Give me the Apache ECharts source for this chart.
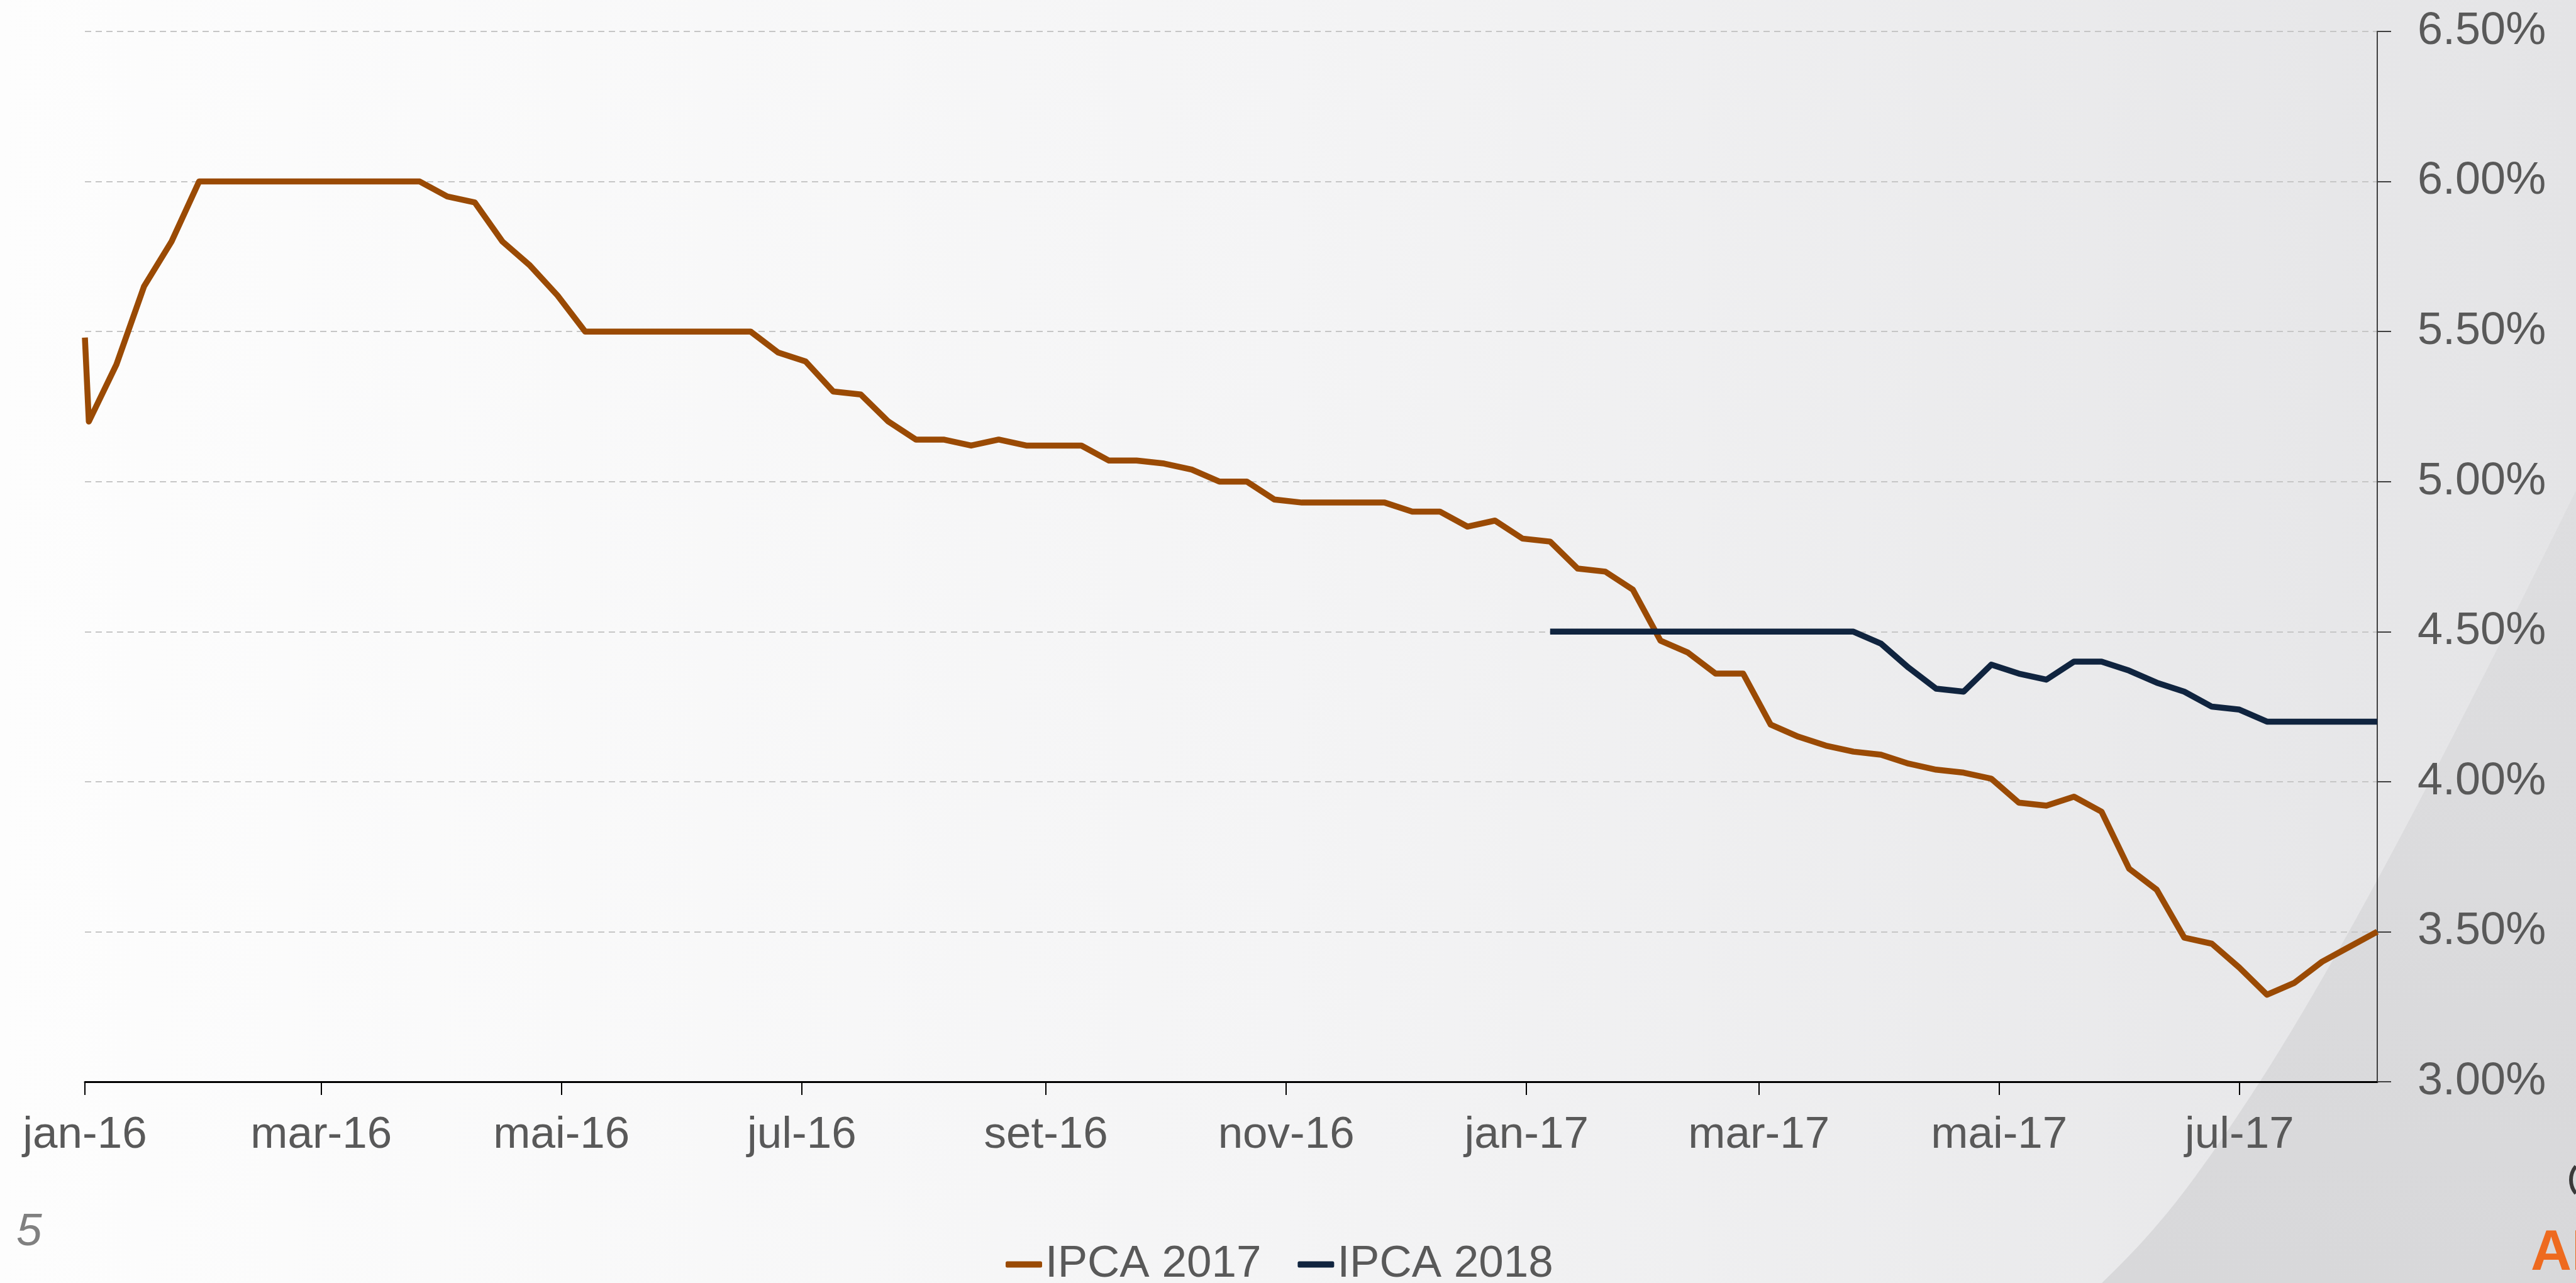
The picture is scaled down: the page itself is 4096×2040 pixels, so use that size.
<!DOCTYPE html>
<html>
<head>
<meta charset="utf-8">
<script src="https://cdn.jsdelivr.net/npm/echarts@6/dist/echarts.min.js"></script>
<style>
html,body{margin:0;padding:0;background:#fbfbfb;}
#chart{width:4096px;height:2040px;}
</style>
</head>
<body>
<div id="chart"></div>
<script>
// ---- data ----
const dates = [
  '2016-01-01',
  '2016-01-02','2016-01-09','2016-01-16','2016-01-23','2016-01-30',
  '2016-02-06','2016-02-13','2016-02-20','2016-02-27',
  '2016-03-05','2016-03-12','2016-03-19','2016-03-26',
  '2016-04-02','2016-04-09','2016-04-16','2016-04-23','2016-04-30',
  '2016-05-07','2016-05-14','2016-05-21','2016-05-28',
  '2016-06-04','2016-06-11','2016-06-18','2016-06-25',
  '2016-07-02','2016-07-09','2016-07-16','2016-07-23','2016-07-30',
  '2016-08-06','2016-08-13','2016-08-20','2016-08-27',
  '2016-09-03','2016-09-10','2016-09-17','2016-09-24',
  '2016-10-01','2016-10-08','2016-10-15','2016-10-22','2016-10-29',
  '2016-11-05','2016-11-12','2016-11-19','2016-11-26',
  '2016-12-03','2016-12-10','2016-12-17','2016-12-24','2016-12-31',
  '2017-01-07','2017-01-14','2017-01-21','2017-01-28',
  '2017-02-04','2017-02-11','2017-02-18','2017-02-25',
  '2017-03-04','2017-03-11','2017-03-18','2017-03-25',
  '2017-04-01','2017-04-08','2017-04-15','2017-04-22','2017-04-29',
  '2017-05-06','2017-05-13','2017-05-20','2017-05-27',
  '2017-06-03','2017-06-10','2017-06-17','2017-06-24',
  '2017-07-01','2017-07-08','2017-07-15','2017-07-22','2017-07-29',
  '2017-08-05'
];
const ipca2017 = [
  5.48,
  5.20,5.39,5.65,5.80,6.00,
  6.00,6.00,6.00,6.00,
  6.00,6.00,6.00,6.00,
  5.95,5.93,5.80,5.72,5.62,
  5.50,5.50,5.50,5.50,
  5.50,5.50,5.50,5.43,
  5.40,5.30,5.29,5.20,5.14,
  5.14,5.12,5.14,5.12,
  5.12,5.12,5.07,5.07,
  5.06,5.04,5.00,5.00,4.94,
  4.93,4.93,4.93,4.93,
  4.90,4.90,4.85,4.87,4.81,
  4.80,4.71,4.70,4.64,
  4.47,4.43,4.36,4.36,
  4.19,4.15,4.12,4.10,
  4.09,4.06,4.04,4.03,4.01,
  3.93,3.92,3.95,3.90,
  3.71,3.64,3.48,3.46,
  3.38,3.29,3.33,3.40,3.45,
  3.50
];
const ipca2018 = [
  null,
  null,null,null,null,null,
  null,null,null,null,
  null,null,null,null,
  null,null,null,null,null,
  null,null,null,null,
  null,null,null,null,
  null,null,null,null,null,
  null,null,null,null,
  null,null,null,null,
  null,null,null,null,null,
  null,null,null,null,
  null,null,null,null,null,
  4.50,4.50,4.50,4.50,
  4.50,4.50,4.50,4.50,
  4.50,4.50,4.50,4.50,
  4.46,4.38,4.31,4.30,4.39,
  4.36,4.34,4.40,4.40,
  4.37,4.33,4.30,4.25,
  4.24,4.20,4.20,4.20,4.20,
  4.20
];
const seriesNames = ['IPCA 2017', 'IPCA 2018'];
const xTickDates = ['2016-01-01','2016-03-01','2016-05-01','2016-07-01','2016-09-01','2016-11-01',
                    '2017-01-01','2017-03-01','2017-05-01','2017-07-01'];
const xTickLabels = ['jan-16','mar-16','mai-16','jul-16','set-16','nov-16',
                     'jan-17','mar-17','mai-17','jul-17'];
const xMin = '2016-01-01';
const xMax = '2017-08-05';
const yMin = 3.0, yMax = 6.5, yStep = 0.5;

// ---- helpers ----
function ts(s) { const p = s.split('-').map(Number); return Date.UTC(p[0], p[1]-1, p[2]); }
const tickTs = xTickDates.map(ts);
const FONT = "'Liberation Sans', Arial, sans-serif";
const LABEL = '#595959';

// decorative background swoosh (slide design, not data)
function bez(p0, p1, p2, p3, n) {
  const out = [];
  for (let i = 0; i <= n; i++) {
    const t = i / n, u = 1 - t;
    out.push([
      u*u*u*p0[0] + 3*u*u*t*p1[0] + 3*u*t*t*p2[0] + t*t*t*p3[0],
      u*u*u*p0[1] + 3*u*u*t*p1[1] + 3*u*t*t*p2[1] + t*t*t*p3[1]
    ]);
  }
  return out;
}
const swoosh = bez([4096, 780], [3950, 1075], [3760, 1460], [3592, 1722], 30)
  .concat(bez([3592, 1722], [3480, 1895], [3425, 1960], [3342, 2040], 20))
  .concat([[4096, 2040]]);

const chart = echarts.init(document.getElementById('chart'), null, {renderer: 'canvas'});
chart.setOption({
  animation: false,
  backgroundColor: new echarts.graphic.LinearGradient(0, 0, 1, 0, [
    {offset: 0, color: '#fdfdfd'},
    {offset: 0.5, color: '#f4f4f5'},
    {offset: 1, color: '#e4e4e6'}
  ]),
  graphic: [
    {
      type: 'polygon', z: -100, silent: true,
      shape: { points: swoosh },
      style: {
        fill: new echarts.graphic.LinearGradient(0, 0, 0, 1, [
          {offset: 0, color: '#dedee0'}, {offset: 1, color: '#d8d8da'}])
      }
    },
    {
      type: 'text', z: 10, silent: true,
      style: { text: '5', x: 26, y: 1960, verticalAlign: 'middle',
        font: "italic 73px 'Liberation Sans', Arial, sans-serif", fill: '#808080' }
    },
    {
      type: 'text', z: 10, silent: true,
      style: { text: 'AI', x: 4024, y: 1994, verticalAlign: 'middle',
        font: "bold 90px 'Liberation Sans', Arial, sans-serif", fill: '#ee6a1f' }
    },
    {
      type: 'arc', z: 10, silent: true,
      shape: { cx: 4122, cy: 1876, r: 34, startAngle: Math.PI * 0.78, endAngle: Math.PI * 1.22 },
      style: { stroke: '#3a3a3a', lineWidth: 6, fill: null }
    }
  ],
  grid: { left: 135, right: 316, top: 50, bottom: 320 },
  legend: {
    left: 1594, top: 1970,
    icon: 'roundRect', itemWidth: 58, itemHeight: 10, itemGap: 58,
    textStyle: { fontSize: 71, color: LABEL, fontFamily: FONT, padding: [0, 0, 0, 0] },
    data: seriesNames
  },
  xAxis: {
    type: 'value',
    min: ts(xMin), max: ts(xMax),
    axisLine: { show: true, onZero: false, lineStyle: { color: '#000', width: 3 } },
    axisTick: { show: true, length: 21, customValues: tickTs, lineStyle: { color: '#000', width: 2 } },
    axisLabel: {
      customValues: tickTs, margin: 50, fontSize: 71, color: LABEL, fontFamily: FONT, hideOverlap: false,
      showMinLabel: true, showMaxLabel: true,
      formatter: function (v) {
        let best = 0, bd = Infinity;
        tickTs.forEach((t, i) => { const d = Math.abs(t - v); if (d < bd) { bd = d; best = i; } });
        return xTickLabels[best];
      }
    },
    splitLine: { show: false }
  },
  yAxis: {
    type: 'value', position: 'right',
    min: yMin, max: yMax, interval: yStep,
    axisLine: { show: true, lineStyle: { color: '#404040', width: 2 } },
    axisTick: { show: true, length: 22, lineStyle: { color: '#404040', width: 2 } },
    axisLabel: { margin: 64, fontSize: 72, color: LABEL, fontFamily: FONT,
      formatter: function (v) { return v.toFixed(2) + '%'; } },
    splitLine: { show: true, lineStyle: { color: '#c6c6c6', width: 2, type: [10, 7] } }
  },
  series: [
    {
      name: seriesNames[0], type: 'line', showSymbol: false, symbol: 'none',
      color: '#9a4a04',
      lineStyle: { width: 9.5, color: '#9a4a04', join: 'round' },
      data: dates.map((d, i) => [ts(d), ipca2017[i]])
    },
    {
      name: seriesNames[1], type: 'line', showSymbol: false, symbol: 'none',
      color: '#10243f',
      lineStyle: { width: 9.5, color: '#10243f', join: 'round' },
      data: dates.map((d, i) => [ts(d), ipca2018[i]])
    }
  ]
});
</script>
</body>
</html>
